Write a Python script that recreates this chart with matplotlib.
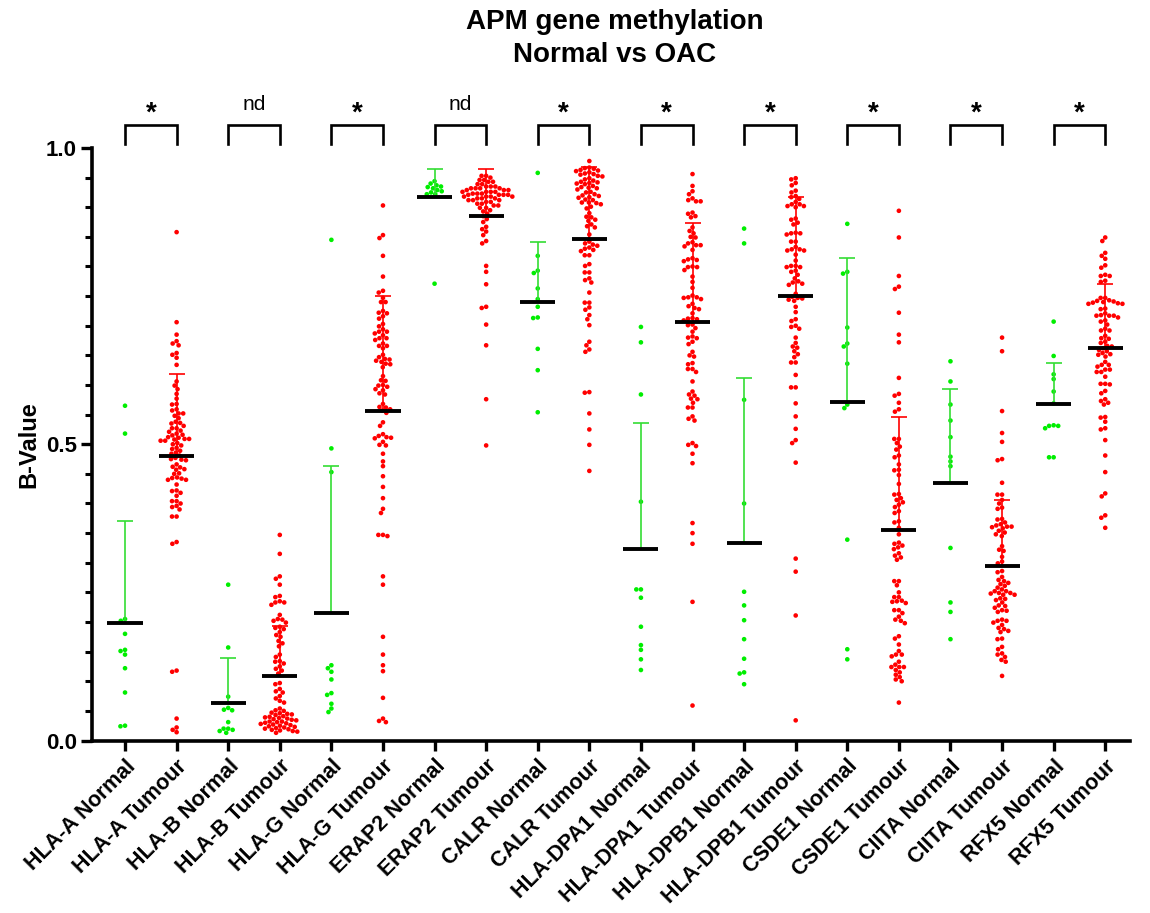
import numpy as np
import matplotlib
matplotlib.use("Agg")
import matplotlib.pyplot as plt

plt.rcParams['font.family'] = ['Liberation Sans', 'DejaVu Sans']

genes = ['HLA-A', 'HLA-B', 'HLA-G', 'ERAP2', 'CALR', 'HLA-DPA1', 'HLA-DPB1', 'CSDE1', 'CIITA', 'RFX5']
significance = ['*', 'nd', '*', 'nd', '*', '*', '*', '*', '*', '*']

# group means and mean+SD (upper error bar)
means_normal = [0.198, 0.064, 0.215, 0.917, 0.740, 0.323, 0.333, 0.572, 0.435, 0.568]
upper_normal = [0.370, 0.139, 0.464, 0.965, 0.841, 0.536, 0.611, 0.815, 0.594, 0.637]
means_tumour = [0.481, 0.109, 0.556, 0.886, 0.846, 0.707, 0.750, 0.355, 0.294, 0.662]
upper_tumour = [0.618, 0.194, 0.751, 0.964, 0.968, 0.873, 0.918, 0.546, 0.406, 0.771]

hla_a_normal = [0.565, 0.518, 0.205, 0.202, 0.180, 0.153, 0.151, 0.145, 0.122, 0.081, 0.024, 0.025]
hla_a_tumour = [0.858, 0.706, 0.685, 0.674, 0.670, 0.667, 0.654, 0.651, 0.646, 0.634, 0.606, 0.599, 0.593,
                0.585, 0.577, 0.568, 0.567, 0.559, 0.557, 0.552, 0.552, 0.548, 0.544, 0.538, 0.536, 0.535,
                0.531, 0.527, 0.527, 0.523, 0.521, 0.518, 0.516, 0.515, 0.512, 0.511, 0.509, 0.509, 0.508,
                0.506, 0.506, 0.502, 0.500, 0.498, 0.494, 0.492, 0.489, 0.486, 0.484, 0.481, 0.477, 0.475,
                0.474, 0.473, 0.466, 0.462, 0.461, 0.458, 0.457, 0.451, 0.450, 0.444, 0.443, 0.442, 0.440,
                0.440, 0.432, 0.422, 0.421, 0.418, 0.413, 0.404, 0.404, 0.400, 0.396, 0.394, 0.390, 0.378,
                0.378, 0.335, 0.332, 0.118, 0.116, 0.037, 0.022, 0.018, 0.014]

hla_b_normal = [0.263, 0.157, 0.074, 0.055, 0.052, 0.051, 0.031, 0.020, 0.020, 0.018, 0.016, 0.013]
hla_b_tumour = [0.347, 0.315, 0.277, 0.273, 0.263, 0.244, 0.242, 0.235, 0.233, 0.233, 0.229, 0.212, 0.205,
                0.204, 0.202, 0.199, 0.192, 0.190, 0.188, 0.183, 0.178, 0.175, 0.168, 0.164, 0.159, 0.145,
                0.141, 0.134, 0.133, 0.130, 0.125, 0.121, 0.118, 0.113, 0.097, 0.095, 0.087, 0.083, 0.081,
                0.075, 0.071, 0.067, 0.064, 0.054, 0.051, 0.050, 0.047, 0.046, 0.045, 0.044, 0.043, 0.041,
                0.040, 0.039, 0.038, 0.037, 0.036, 0.035, 0.034, 0.032, 0.032, 0.031, 0.030, 0.029, 0.028,
                0.027, 0.026, 0.025, 0.024, 0.023, 0.022, 0.021, 0.020, 0.019, 0.018, 0.017, 0.016, 0.015,
                0.013]

hla_g_normal = [0.845, 0.493, 0.453, 0.127, 0.122, 0.116, 0.103, 0.080, 0.077, 0.062, 0.054, 0.048]
hla_g_tumour = [0.903, 0.853, 0.848, 0.818, 0.783, 0.759, 0.756, 0.747, 0.740, 0.740, 0.725, 0.722, 0.721,
                0.716, 0.712, 0.703, 0.699, 0.694, 0.690, 0.690, 0.687, 0.684, 0.679, 0.679, 0.676, 0.670,
                0.666, 0.666, 0.662, 0.651, 0.647, 0.644, 0.643, 0.641, 0.639, 0.636, 0.635, 0.630, 0.615,
                0.608, 0.607, 0.600, 0.599, 0.597, 0.593, 0.591, 0.586, 0.584, 0.568, 0.563, 0.562, 0.559,
                0.557, 0.553, 0.537, 0.531, 0.517, 0.514, 0.511, 0.512, 0.510, 0.504, 0.499, 0.498, 0.484,
                0.471, 0.463, 0.446, 0.428, 0.409, 0.391, 0.384, 0.345, 0.347, 0.347, 0.277, 0.263, 0.175,
                0.145, 0.127, 0.117, 0.072, 0.037, 0.033, 0.031]

erap2_normal = [0.944, 0.940, 0.937, 0.935, 0.934, 0.932, 0.929, 0.927, 0.925, 0.922, 0.922, 0.771]
erap2_tumour = [0.953, 0.953, 0.950, 0.946, 0.946, 0.943, 0.943, 0.939, 0.939, 0.935, 0.935, 0.935, 0.932,
                0.932, 0.932, 0.932, 0.929, 0.929, 0.929, 0.926, 0.926, 0.926, 0.926, 0.923, 0.923, 0.923,
                0.921, 0.921, 0.921, 0.921, 0.918, 0.918, 0.918, 0.918, 0.915, 0.915, 0.915, 0.912, 0.912,
                0.912, 0.909, 0.909, 0.906, 0.906, 0.903, 0.903, 0.899, 0.899, 0.895, 0.893, 0.889, 0.885,
                0.880, 0.875, 0.867, 0.863, 0.859, 0.853, 0.843, 0.839, 0.801, 0.791, 0.770, 0.732, 0.730,
                0.702, 0.667, 0.576, 0.498]

calr_normal = [0.958, 0.818, 0.793, 0.789, 0.763, 0.745, 0.732, 0.714, 0.713, 0.661, 0.625, 0.554]
calr_tumour = [0.978, 0.967, 0.966, 0.965, 0.963, 0.962, 0.961, 0.959, 0.957, 0.956, 0.955, 0.953, 0.952,
               0.949, 0.947, 0.945, 0.943, 0.942, 0.941, 0.940, 0.939, 0.936, 0.934, 0.933, 0.932, 0.930,
               0.926, 0.925, 0.922, 0.920, 0.919, 0.917, 0.916, 0.913, 0.912, 0.908, 0.908, 0.907, 0.905,
               0.901, 0.898, 0.890, 0.884, 0.883, 0.879, 0.877, 0.871, 0.868, 0.866, 0.854, 0.842, 0.839,
               0.837, 0.835, 0.832, 0.830, 0.828, 0.826, 0.819, 0.819, 0.804, 0.801, 0.790, 0.790, 0.780,
               0.777, 0.773, 0.756, 0.739, 0.739, 0.731, 0.727, 0.718, 0.711, 0.701, 0.673, 0.667, 0.660,
               0.656, 0.588, 0.587, 0.552, 0.525, 0.499, 0.455]

dpa1_normal = [0.698, 0.672, 0.584, 0.403, 0.255, 0.255, 0.241, 0.192, 0.161, 0.153, 0.137, 0.119]
dpa1_tumour = [0.956, 0.936, 0.927, 0.922, 0.915, 0.912, 0.910, 0.910, 0.891, 0.889, 0.885, 0.883, 0.866,
               0.860, 0.856, 0.850, 0.849, 0.841, 0.839, 0.836, 0.836, 0.834, 0.828, 0.814, 0.812, 0.811,
               0.809, 0.800, 0.799, 0.799, 0.794, 0.783, 0.774, 0.764, 0.751, 0.748, 0.748, 0.747, 0.745,
               0.737, 0.733, 0.730, 0.728, 0.721, 0.713, 0.712, 0.711, 0.709, 0.702, 0.701, 0.696, 0.690,
               0.682, 0.680, 0.679, 0.673, 0.669, 0.656, 0.650, 0.648, 0.637, 0.635, 0.627, 0.627, 0.622,
               0.606, 0.589, 0.584, 0.582, 0.577, 0.576, 0.570, 0.562, 0.562, 0.547, 0.543, 0.540, 0.502,
               0.499, 0.497, 0.484, 0.468, 0.367, 0.350, 0.332, 0.234, 0.059]

dpb1_normal = [0.864, 0.839, 0.575, 0.400, 0.251, 0.228, 0.203, 0.171, 0.138, 0.115, 0.113, 0.095]
dpb1_tumour = [0.949, 0.947, 0.941, 0.937, 0.928, 0.925, 0.919, 0.917, 0.914, 0.909, 0.905, 0.905, 0.902,
               0.902, 0.900, 0.881, 0.879, 0.874, 0.871, 0.857, 0.856, 0.856, 0.854, 0.842, 0.842, 0.833,
               0.829, 0.829, 0.827, 0.827, 0.820, 0.810, 0.801, 0.801, 0.799, 0.799, 0.793, 0.791, 0.786,
               0.780, 0.775, 0.773, 0.771, 0.769, 0.754, 0.749, 0.747, 0.746, 0.744, 0.742, 0.732, 0.723,
               0.711, 0.708, 0.700, 0.698, 0.695, 0.680, 0.671, 0.665, 0.663, 0.657, 0.652, 0.647, 0.638,
               0.638, 0.617, 0.596, 0.596, 0.569, 0.547, 0.526, 0.507, 0.502, 0.469, 0.307, 0.285, 0.211,
               0.034]

csde1_normal = [0.872, 0.791, 0.788, 0.697, 0.670, 0.665, 0.636, 0.567, 0.561, 0.339, 0.154, 0.137]
csde1_tumour = [0.894, 0.849, 0.784, 0.766, 0.762, 0.722, 0.685, 0.672, 0.612, 0.585, 0.582, 0.570, 0.559,
                0.555, 0.509, 0.509, 0.502, 0.496, 0.491, 0.481, 0.478, 0.466, 0.457, 0.456, 0.448, 0.433,
                0.416, 0.415, 0.409, 0.406, 0.402, 0.398, 0.394, 0.387, 0.384, 0.370, 0.368, 0.359, 0.348,
                0.334, 0.329, 0.332, 0.326, 0.323, 0.316, 0.312, 0.309, 0.305, 0.269, 0.269, 0.262, 0.250,
                0.242, 0.242, 0.236, 0.235, 0.234, 0.232, 0.220, 0.220, 0.215, 0.209, 0.204, 0.202, 0.198,
                0.176, 0.172, 0.162, 0.151, 0.145, 0.145, 0.142, 0.133, 0.128, 0.124, 0.124, 0.124, 0.119,
                0.115, 0.111, 0.107, 0.103, 0.100, 0.064]

ciita_normal = [0.640, 0.606, 0.567, 0.540, 0.512, 0.479, 0.471, 0.463, 0.325, 0.233, 0.217, 0.171]
ciita_tumour = [0.680, 0.657, 0.556, 0.519, 0.504, 0.475, 0.473, 0.435, 0.415, 0.415, 0.406, 0.400, 0.391,
                0.393, 0.374, 0.373, 0.368, 0.365, 0.363, 0.361, 0.361, 0.360, 0.358, 0.354, 0.351, 0.348,
                0.345, 0.328, 0.322, 0.320, 0.310, 0.302, 0.299, 0.286, 0.284, 0.276, 0.271, 0.269, 0.266,
                0.264, 0.261, 0.258, 0.255, 0.252, 0.252, 0.249, 0.249, 0.248, 0.246, 0.246, 0.240, 0.239,
                0.237, 0.233, 0.228, 0.227, 0.224, 0.220, 0.219, 0.217, 0.204, 0.202, 0.202, 0.199, 0.195,
                0.190, 0.188, 0.185, 0.183, 0.172, 0.171, 0.158, 0.154, 0.147, 0.145, 0.141, 0.136, 0.133,
                0.109]

rfx5_normal = [0.707, 0.649, 0.618, 0.610, 0.589, 0.569, 0.532, 0.531, 0.531, 0.527, 0.478, 0.478]
rfx5_tumour = [0.849, 0.843, 0.823, 0.818, 0.813, 0.802, 0.798, 0.786, 0.784, 0.784, 0.776, 0.774, 0.747,
               0.747, 0.743, 0.742, 0.741, 0.740, 0.739, 0.738, 0.737, 0.737, 0.729, 0.728, 0.721, 0.717,
               0.718, 0.717, 0.717, 0.714, 0.709, 0.707, 0.702, 0.695, 0.692, 0.692, 0.683, 0.679, 0.678,
               0.673, 0.671, 0.666, 0.665, 0.662, 0.659, 0.657, 0.654, 0.652, 0.651, 0.648, 0.639, 0.634,
               0.634, 0.631, 0.626, 0.626, 0.622, 0.622, 0.614, 0.602, 0.602, 0.601, 0.590, 0.586, 0.576,
               0.573, 0.570, 0.567, 0.546, 0.545, 0.538, 0.527, 0.525, 0.507, 0.481, 0.453, 0.417, 0.412,
               0.380, 0.376, 0.359]

normal_groups = [hla_a_normal, hla_b_normal, hla_g_normal, erap2_normal, calr_normal,
                 dpa1_normal, dpb1_normal, csde1_normal, ciita_normal, rfx5_normal]
tumour_groups = [hla_a_tumour, hla_b_tumour, hla_g_tumour, erap2_tumour, calr_tumour,
                 dpa1_tumour, dpb1_tumour, csde1_tumour, ciita_tumour, rfx5_tumour]

GREEN = '#00ee00'
GREEN_BAR = '#33dd33'
RED = '#ff0000'

W, H = 1150, 913
fig = plt.figure(figsize=(W / 100, H / 100), dpi=100)
ax_left, ax_right, ax_top, ax_bottom = 92, 1130, 148, 740.5
ax = fig.add_axes([ax_left / W, 1 - ax_bottom / H, (ax_right - ax_left) / W, (ax_bottom - ax_top) / H])
xmin, xmax = -0.64, 19.48
ax.set_xlim(xmin, xmax)
ax.set_ylim(0, 1.0)
px_per_x = (ax_right - ax_left) / (xmax - xmin)
px_per_y = (ax_bottom - ax_top) / 1.0


def swarm_offsets(values, diam):
    """Beeswarm layout in pixel space; returns x offsets in pixels."""
    ys = np.asarray(values) * px_per_y
    order = np.argsort(-ys)
    placed = []
    xs = np.zeros(len(ys))
    for i in order:
        y = ys[i]
        near = [(px, py) for px, py in placed if abs(py - y) < diam]
        cands = [0.0]
        for px, py in near:
            dx = np.sqrt(diam ** 2 - (py - y) ** 2)
            cands += [px + dx, px - dx]
        cands.sort(key=lambda c: (abs(c), c))
        for c in cands:
            if all((c - px) ** 2 + (y - py) ** 2 >= diam ** 2 - 1e-6 for px, py in near):
                xs[i] = c
                break
        placed.append((xs[i], y))
    return xs


DIAM = 4.6
for i in range(len(genes)):
    for k, (vals, col, m, up, barcol) in enumerate([
            (normal_groups[i], GREEN, means_normal[i], upper_normal[i], GREEN_BAR),
            (tumour_groups[i], RED, means_tumour[i], upper_tumour[i], RED)]):
        xc = 2 * i + k
        off = swarm_offsets(vals, DIAM) / px_per_x
        ax.scatter(xc + off, vals, s=11, color=col, edgecolors='none', zorder=3, clip_on=False)
        ax.plot([xc, xc], [m, up], color=barcol, lw=1.2, zorder=4, solid_capstyle='butt')
        ax.plot([xc - 0.155, xc + 0.155], [up, up], color=barcol, lw=1.2, zorder=4, solid_capstyle='butt')
        ax.plot([xc - 0.34, xc + 0.34], [m, m], color='black', lw=2.8, zorder=5, solid_capstyle='butt')

    # significance brackets
    x0, x1 = 2 * i, 2 * i + 1
    ax.plot([x0, x0, x1, x1], [1.006, 1.039, 1.039, 1.006], color='black', lw=1.9,
            clip_on=False, solid_joinstyle='miter')
    if significance[i] == '*':
        ax.text((x0 + x1) / 2, 1.058, '*', ha='center', va='center', fontsize=20,
                fontweight='bold', clip_on=False)
    else:
        ax.text((x0 + x1) / 2, 1.074, significance[i], ha='center', va='center', fontsize=15,
                clip_on=False)

labels = []
for g in genes:
    labels += [g + ' Normal', g + ' Tumour']
ax.set_xticks(range(len(labels)))
ax.set_xticklabels(labels, rotation=45, ha='right', rotation_mode='anchor',
                   fontsize=15.5, fontweight='bold')
ax.set_yticks([0, 0.5, 1.0])
ax.set_yticklabels(['0.0', '0.5', '1.0'], fontsize=16, fontweight='bold')
ax.set_yticks(np.arange(0, 1.0001, 0.05), minor=True)
ax.tick_params(axis='y', which='major', length=8, width=2.4, pad=3)
ax.tick_params(axis='y', which='minor', length=5, width=2.2)
ax.tick_params(axis='x', which='major', length=7, width=2.4, pad=4)
for s in ['top', 'right']:
    ax.spines[s].set_visible(False)
for s in ['left', 'bottom']:
    ax.spines[s].set_linewidth(2.6)
ax.set_ylabel('B-Value', fontsize=17, fontweight='bold', labelpad=4)

fig.text(615 / W, 1 - 22 / H, 'APM gene methylation', ha='center', va='center',
         fontsize=20, fontweight='bold')
fig.text(615 / W, 1 - 55 / H, 'Normal vs OAC', ha='center', va='center',
         fontsize=20, fontweight='bold')

fig.savefig('out.png', dpi=100)
